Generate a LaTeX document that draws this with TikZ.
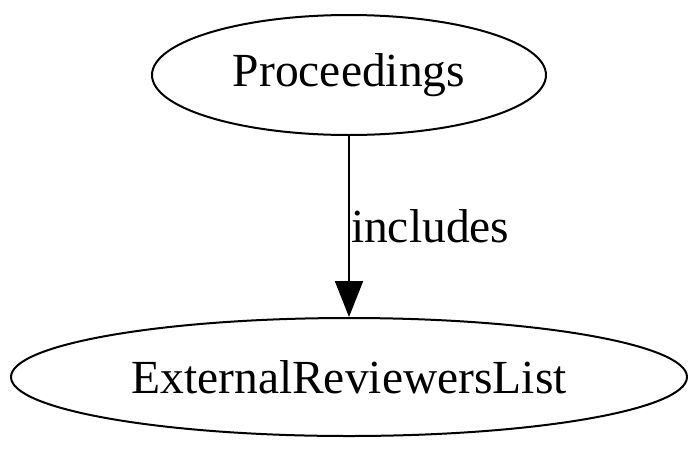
\documentclass[tikz,border=0pt]{standalone}
\usepackage{fontspec}
\setmainfont{Liberation Serif}
\usetikzlibrary{arrows.meta,shapes.geometric}
\begin{document}
\begin{tikzpicture}[x=1pt,y=-1pt,
  nd/.style={draw,ellipse,line width=2pt,inner sep=0pt,font=\fontsize{47.5}{56}\selectfont},
  edge/.style={line width=2pt,-{Triangle[length=36pt,width=28pt]}}]
\useasboundingbox (0,0) rectangle (700,450);
\node[nd,minimum width=394pt,minimum height=120pt] (p) at (349,75) {Proceedings};
\node[nd,minimum width=676pt,minimum height=118pt] (e) at (349,377) {ExternalReviewersList};
\draw[edge] (p) -- node[right,inner sep=1pt,font=\fontsize{47.5}{56}\selectfont] (lab) {includes} (e);
\end{tikzpicture}
\end{document}
